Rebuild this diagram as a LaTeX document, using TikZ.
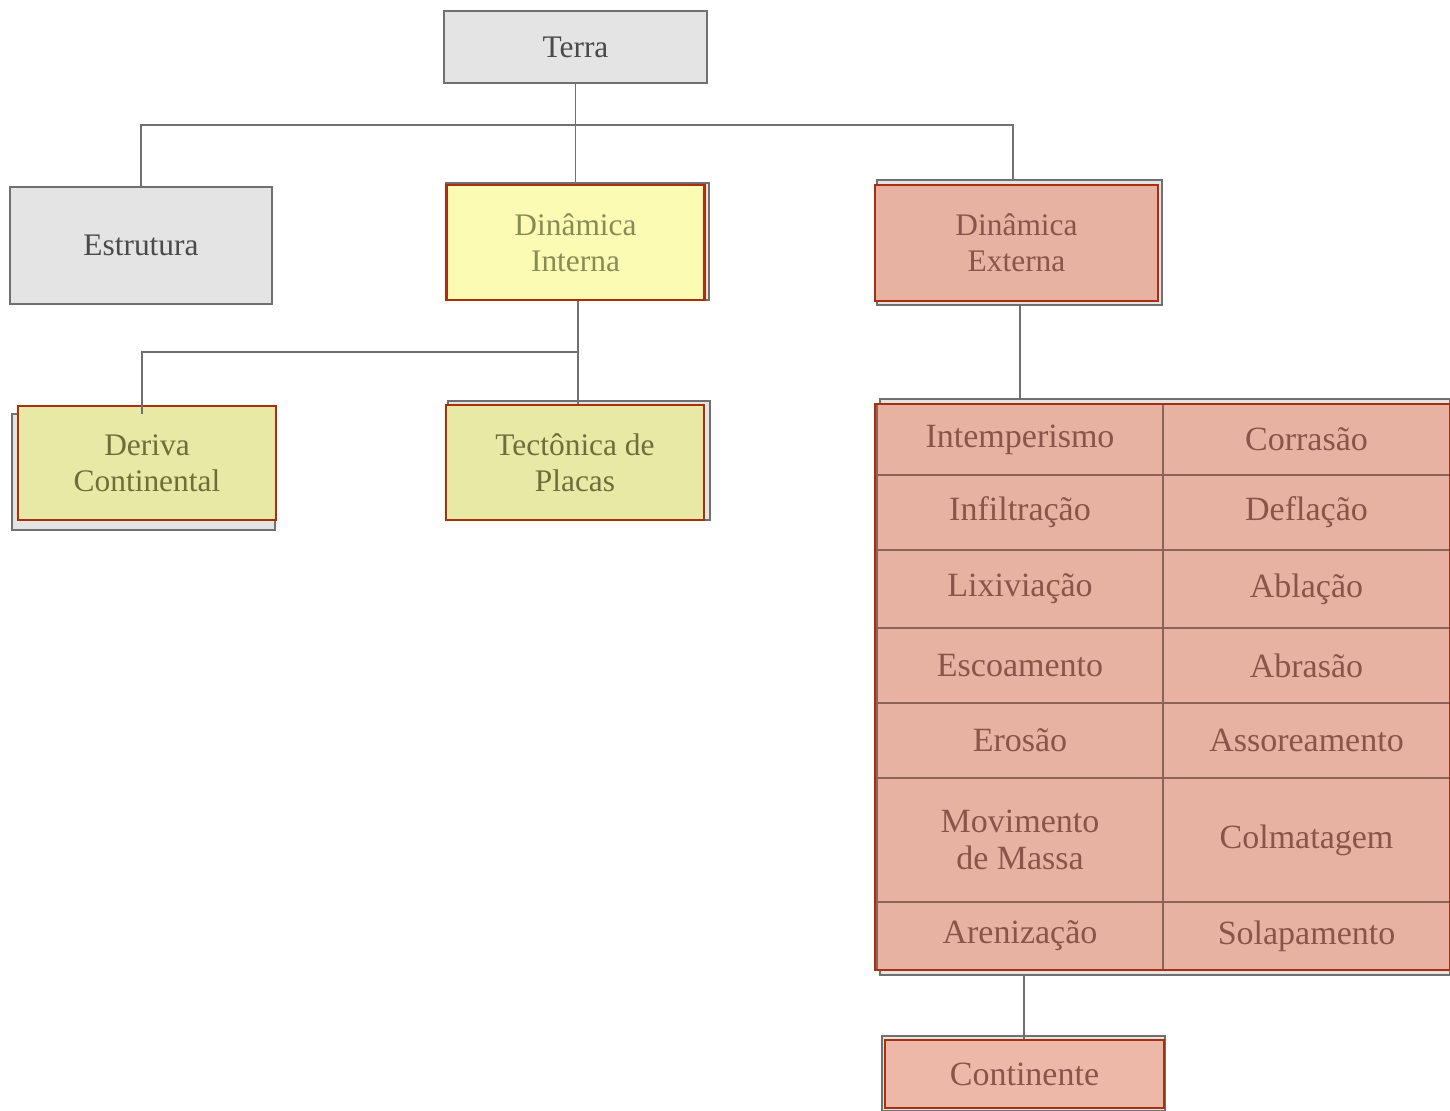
\documentclass[tikz,border=0pt]{standalone}
\usepackage{fontspec}
\setmainfont{Liberation Serif}
\definecolor{grayfill}{HTML}{E4E4E4}
\definecolor{grayline}{HTML}{707070}
\definecolor{graytext}{HTML}{4A4A4A}
\definecolor{yellowA}{HTML}{FCFBB4}
\definecolor{yellowB}{HTML}{E9E9A6}
\definecolor{salmon}{HTML}{E8B2A2}
\definecolor{salmonB}{HTML}{EDB8A7}
\definecolor{redline}{HTML}{A8300F}
\definecolor{olivetext}{HTML}{6E6E3A}
\definecolor{olivetextB}{HTML}{8A8A55}
\definecolor{browntext}{HTML}{8A5548}
\definecolor{cellline}{HTML}{8A6458}
\begin{document}
\begin{tikzpicture}[x=0.5pt,y=-0.5pt,
  base/.style={rectangle, inner sep=0pt, align=center, font=\fontsize{15.7}{18}\selectfont},
  graybox/.style={base, draw=grayline, line width=0.8pt, fill=grayfill, text=graytext},
  yelbox/.style={base, draw=redline, line width=1.2pt, fill=yellowA, text=olivetextB},
  greenbox/.style={base, draw=redline, line width=1.2pt, fill=yellowB, text=olivetext},
  salbox/.style={base, draw=redline, line width=1.2pt, fill=salmon, text=browntext},
  cell/.style={rectangle, inner sep=0pt, align=center, draw=cellline, line width=0.7pt, fill=salmon, text=browntext, font=\fontsize{17}{18.5}\selectfont},
  lcell/.style={cell, minimum width=143pt},
  rcell/.style={cell, minimum width=143.5pt},
  under/.style={draw=grayline, line width=0.8pt, fill=grayfill},
  conn/.style={draw=grayline, line width=0.7pt}
]
\useasboundingbox (0,0) rectangle (1450,1111);

% underlays (scanned gray boxes)
\draw[under] (446,183) rectangle (709,300);
\draw[under] (877,180) rectangle (1162,305);
\draw[under] (12,414) rectangle (275,530);
\draw[under] (448,401) rectangle (710,520);
\draw[under] (880,399) rectangle (1450,975);
\draw[under] (882,1036) rectangle (1165,1111);

% main boxes
\node[graybox, minimum width=131.5pt, minimum height=36pt] (terra) at (575.5,47) {Terra};
\node[graybox, minimum width=131pt, minimum height=58.5pt] (estr) at (141,245.5) {Estrutura};
\node[yelbox, minimum width=129pt, minimum height=57.5pt] (dint) at (575.5,242.5) {Dinâmica\\Interna};
\node[salbox, minimum width=141.5pt, minimum height=58pt] (dext) at (1016.5,243) {Dinâmica\\Externa};
\node[greenbox, minimum width=129pt, minimum height=57pt] (deriva) at (147,463) {Deriva\\Continental};
\node[greenbox, minimum width=129pt, minimum height=57.5pt] (tect) at (575,462.5) {Tectônica de\\Placas};

% table cells
\node[lcell, minimum height=35.5pt] (l1) at (1020,439.5) {Intemperismo};
\node[rcell, minimum height=35.5pt] (r1) at (1306.5,439.5) {Corrasão};
\node[lcell, minimum height=37.5pt] (l2) at (1020,512.5) {Infiltração};
\node[rcell, minimum height=37.5pt] (r2) at (1306.5,512.5) {Deflação};
\node[lcell, minimum height=39pt] (l3) at (1020,589) {Lixiviação};
\node[rcell, minimum height=39pt] (r3) at (1306.5,589) {Ablação};
\node[lcell, minimum height=37.5pt] (l4) at (1020,665.5) {Escoamento};
\node[rcell, minimum height=37.5pt] (r4) at (1306.5,665.5) {Abrasão};
\node[lcell, minimum height=37.5pt] (l5) at (1020,740.5) {Erosão};
\node[rcell, minimum height=37.5pt] (r5) at (1306.5,740.5) {Assoreamento};
\node[lcell, minimum height=62pt] (l6) at (1020,840) {Movimento\\de Massa};
\node[rcell, minimum height=62pt] (r6) at (1306.5,840) {Colmatagem};
\node[lcell, minimum height=34pt] (l7) at (1020,936) {Arenização};
\node[rcell, minimum height=34pt] (r7) at (1306.5,936) {Solapamento};
\draw[redline, line width=1.2pt] (875,404) rectangle (1450,970);

\node[salbox, fill=salmonB, font=\fontsize{17}{18.5}\selectfont, minimum width=139.5pt, minimum height=34pt] (cont) at (1024.5,1074) {Continente};

% connectors
\coordinate (j1) at (575.5,125);
\coordinate (j2) at (578,352);
\coordinate (ttop) at (1020,399);
\coordinate (tbot) at (1024,975);
\coordinate (etop) at (1013,180);
\draw[conn] (terra.south) -- (j1);
\draw[conn] (j1) -| (estr.north);
\draw[conn] (j1) -- (dint.north -| j1);
\draw[conn] (j1) -| (etop);
\draw[conn] (dint.south -| j2) -- (j2);
\draw[conn] (j2) -| (142,414);
\draw[conn] (j2) -- (j2 |- tect.north);
\draw[conn] (dext.south -| ttop) ++(0,3) -- (ttop);
\draw[conn] (tbot) -- (cont.north -| tbot);
\end{tikzpicture}
\end{document}
